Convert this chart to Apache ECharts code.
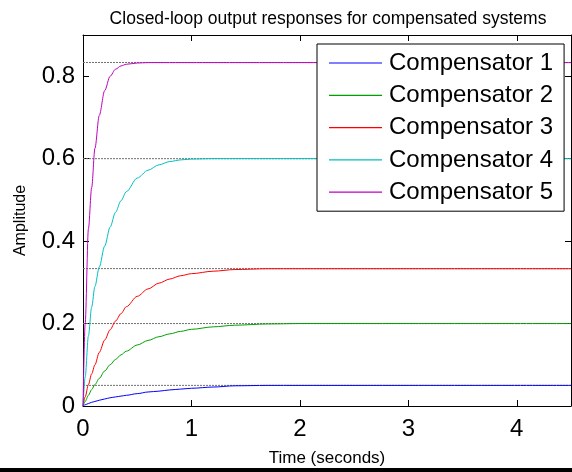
<!DOCTYPE html>
<html>
<head>
<meta charset="utf-8">
<script src="https://cdn.jsdelivr.net/npm/echarts@6/dist/echarts.min.js"></script>
<style>
html,body{margin:0;padding:0;background:#fff;}
#chart{width:572px;height:472px;}
</style>
</head>
<body>
<div id="chart"></div>
<script>
// Time samples (seconds)
const timeSec = [0, 0.02, 0.05, 0.08, 0.11, 0.15, 0.2, 0.25, 0.3, 0.35, 0.4, 0.5, 0.6, 0.7, 0.8, 0.9, 1.0, 1.2, 1.4, 1.7, 2.0, 3.0, 4.5];
// Step responses
const comp1 = [0, 0.003, 0.006, 0.009, 0.011, 0.014, 0.017, 0.02, 0.022, 0.024, 0.026, 0.03, 0.034, 0.036, 0.039, 0.041, 0.043, 0.046, 0.049, 0.05, 0.05, 0.05, 0.05];
const comp2 = [0, 0.011, 0.026, 0.04, 0.052, 0.067, 0.085, 0.1, 0.113, 0.124, 0.133, 0.148, 0.159, 0.168, 0.175, 0.181, 0.186, 0.192, 0.196, 0.199, 0.2, 0.2, 0.2];
const comp3 = [0, 0.022, 0.052, 0.078, 0.1, 0.13, 0.16, 0.185, 0.206, 0.224, 0.241, 0.266, 0.284, 0.298, 0.308, 0.316, 0.321, 0.327, 0.331, 0.333, 0.333, 0.333, 0.333];
const comp4 = [0, 0.07, 0.17, 0.24, 0.29, 0.337, 0.388, 0.434, 0.47, 0.498, 0.52, 0.553, 0.572, 0.585, 0.593, 0.597, 0.599, 0.6, 0.6, 0.6, 0.6, 0.6, 0.6];
const comp5 = [0, 0.2, 0.43, 0.53, 0.625, 0.705, 0.765, 0.8, 0.817, 0.825, 0.829, 0.832, 0.833, 0.833, 0.833, 0.833, 0.833, 0.833, 0.833, 0.833, 0.833, 0.833, 0.833];
// Steady-state values
const finalValues = [0.05, 0.2, 0.3333, 0.6, 0.8333];
const seriesNames = ['Compensator 1', 'Compensator 2', 'Compensator 3', 'Compensator 4', 'Compensator 5'];
const xTicks = [0, 1, 2, 3, 4];
const yTicks = [0, 0.2, 0.4, 0.6, 0.8];
const xRange = [0, 4.5];
const yRange = [0, 0.9];

const colors = ['#0000ff', '#00a000', '#ff0000', '#00bfbf', '#bf00bf'];
const allComps = [comp1, comp2, comp3, comp4, comp5];
const FONT = 'Liberation Sans, Arial, sans-serif';

const chart = echarts.init(document.getElementById('chart'), null, {renderer: 'canvas'});

const series = [];
finalValues.forEach((f, i) => {
  series.push({
    name: 'final' + i,
    type: 'line',
    data: [[xRange[0], f], [xRange[1], f]],
    showSymbol: false,
    silent: true,
    z: 1,
    lineStyle: {color: '#707070', width: 1, type: [2, 1]}
  });
});
allComps.forEach((vals, i) => {
  series.push({
    name: seriesNames[i],
    type: 'line',
    data: timeSec.map((t, k) => [t, vals[k]]),
    showSymbol: false,
    smooth: 0.3,
    smoothMonotone: 'x',
    z: 3,
    color: colors[i],
    lineStyle: {color: colors[i], width: 1}
  });
});

const axisCommon = {
  type: 'value',
  axisLine: {show: true, onZero: false, lineStyle: {color: '#000', width: 1}},
  axisTick: {show: true, inside: true, length: 6, lineStyle: {color: '#000'}},
  splitLine: {show: false}
};

const option = {
  animation: false,
  backgroundColor: '#fff',
  color: colors,
  title: {
    text: 'Closed-loop output responses for compensated systems',
    left: 323, top: 5, textAlign: 'center',
    textStyle: {fontFamily: FONT, fontSize: 17.5, fontWeight: 'normal', color: '#000'}
  },
  grid: {left: 83, right: 1, top: 35, bottom: 58},
  legend: {
    data: seriesNames,
    orient: 'vertical',
    left: 317, top: 44,
    backgroundColor: '#fff',
    borderColor: '#000', borderWidth: 1,
    padding: [7, 11, 7, 12],
    itemGap: 8.3,
    itemWidth: 53, itemHeight: 1.2,
    icon: 'rect',
    textStyle: {fontFamily: FONT, fontSize: 24, color: '#000', lineHeight: 24, padding: [0, 0, 0, 2]}
  },
  xAxis: [
    Object.assign({}, axisCommon, {
      min: xRange[0], max: xRange[1], interval: 1, position: 'bottom',
      axisLabel: {fontFamily: FONT, fontSize: 24, color: '#000', margin: 11, showMaxLabel: false,
        formatter: v => xTicks.includes(v) ? String(v) : ''},
      name: 'Time (seconds)', nameLocation: 'middle', nameGap: 44,
      nameTextStyle: {fontFamily: FONT, fontSize: 17, color: '#000'}
    }),
    Object.assign({}, axisCommon, {
      min: xRange[0], max: xRange[1], interval: 1, position: 'top',
      axisLabel: {show: false}
    })
  ],
  yAxis: [
    Object.assign({}, axisCommon, {
      min: yRange[0], max: yRange[1], interval: 0.2, position: 'left',
      axisLabel: {fontFamily: FONT, fontSize: 24, color: '#000', margin: 8, showMaxLabel: false,
        formatter: v => {
          const r = Math.round(v * 10) / 10;
          if (!yTicks.includes(r)) return '';
          return r === 0 ? '0' : r.toFixed(1);
        }},
      name: 'Amplitude', nameLocation: 'middle', nameGap: 54,
      nameTextStyle: {fontFamily: FONT, fontSize: 16, color: '#000'}
    }),
    Object.assign({}, axisCommon, {
      min: yRange[0], max: yRange[1], interval: 0.2, position: 'right',
      axisLabel: {show: false}
    })
  ],
  graphic: [{
    type: 'rect', z: 100,
    shape: {x: 0, y: 468, width: 572, height: 4},
    style: {fill: '#000'}
  }],
  series: series
};
chart.setOption(option);
</script>
</body>
</html>
